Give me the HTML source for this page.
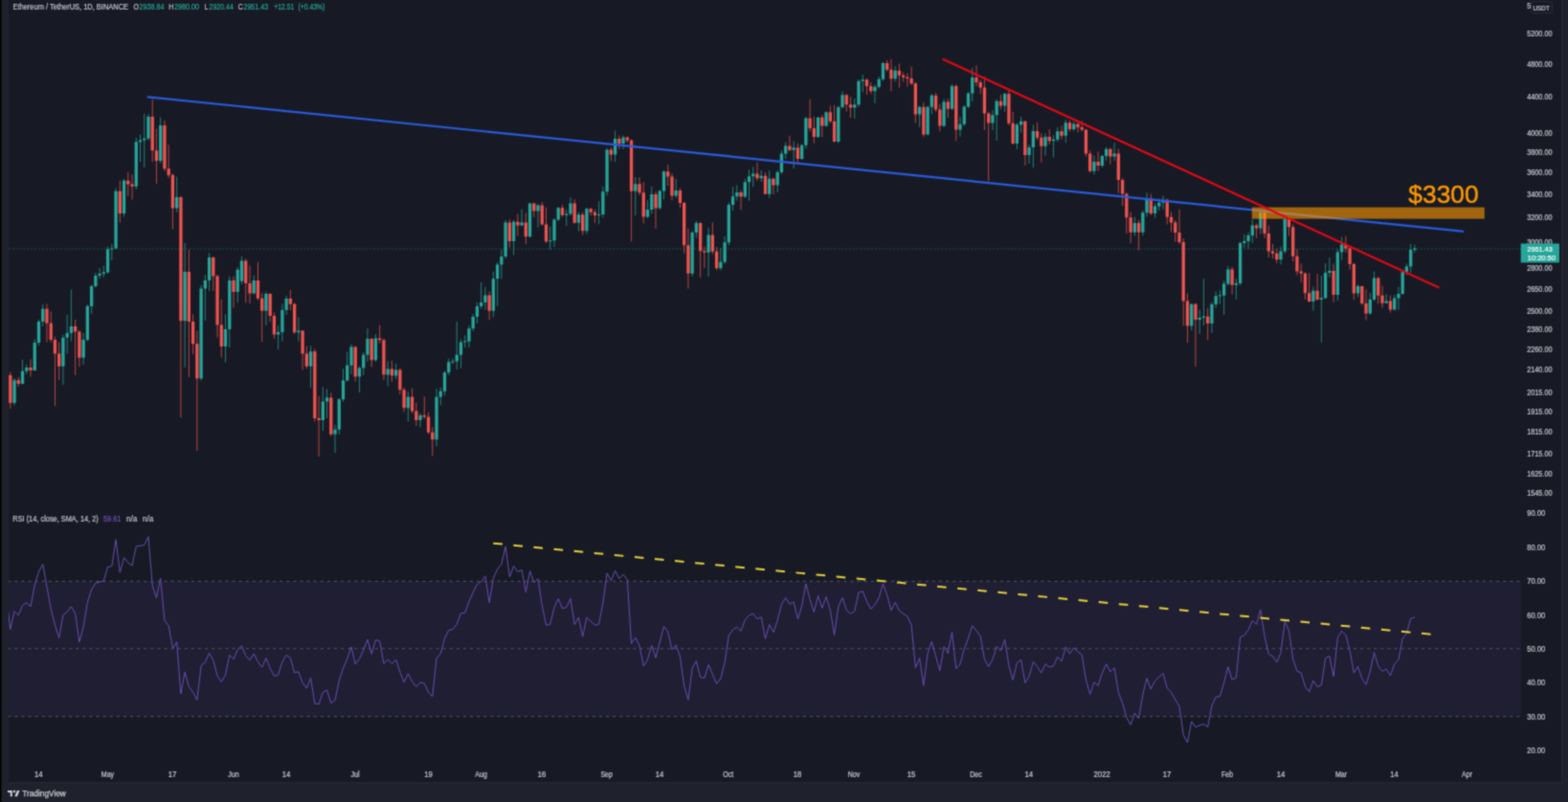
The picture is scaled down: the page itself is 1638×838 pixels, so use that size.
<!DOCTYPE html>
<html><head><meta charset="utf-8"><title>ETHUSDT</title>
<style>html,body{margin:0;padding:0;background:#171a24;}body{width:1638px;height:838px;overflow:hidden;}svg{display:block;}</style>
</head><body><svg xmlns="http://www.w3.org/2000/svg" width="1638" height="838" viewBox="0 0 1638 838"><defs><filter id="bl" x="0" y="0" width="1" height="1" color-interpolation-filters="sRGB"><feConvolveMatrix order="3" kernelMatrix="1 3 1 3 9 3 1 3 1" edgeMode="duplicate"/></filter></defs><g filter="url(#bl)"><rect x="0" y="0" width="1638" height="838" fill="#171a24"/><rect x="9" y="607.2" width="1580" height="141.6" fill="#1f1e33"/><line x1="9" y1="607.4" x2="1589" y2="607.4" stroke="#555864" stroke-width="1" stroke-dasharray="3 4.1" stroke-dashoffset="0.77"/><line x1="9" y1="677.7" x2="1589" y2="677.7" stroke="#555864" stroke-width="1" stroke-dasharray="3 4.1" stroke-dashoffset="0.77"/><line x1="9" y1="748.7" x2="1589" y2="748.7" stroke="#555864" stroke-width="1" stroke-dasharray="3 4.1" stroke-dashoffset="0.77"/><path d="M15.05 395.0V423.5M23.53 375.9V401.6M27.77 381.0V391.0M36.25 354.4V387.7M40.49 334.0V361.0M44.73 318.0V341.0M65.93 350.0V402.0M70.17 329.0V369.4M74.41 302.5V356.6M87.13 348.0V381.0M91.37 318.0V356.6M95.61 297.5V328.0M99.85 285.0V300.5M104.09 280.0V291.0M108.33 277.8V289.7M112.57 257.5V286.0M116.81 255.0V272.0M121.06 196.7V260.4M129.54 187.0V226.5M142.26 144.0V197.9M146.50 140.6V169.0M150.74 119.0V175.0M154.98 119.0V146.5M167.70 122.7V170.4M184.66 184.7V221.7M193.14 254.0V383.8M210.10 298.0V397.6M214.34 287.0V335.0M218.58 264.4V304.0M235.54 328.4V378.6M239.78 288.6V363.0M248.26 279.3V316.3M252.50 267.9V297.3M265.22 287.6V307.6M277.94 305.0V340.0M290.66 340.2V365.3M294.90 317.6V356.5M299.14 308.9V329.0M311.86 331.4V356.5M324.58 361.5V405.4M337.31 404.5V450.3M341.55 406.4V437.0M350.03 443.7V473.3M354.27 416.0V454.2M358.51 385.4V419.8M362.75 367.8V398.8M366.99 359.6V391.0M375.47 382.5V410.2M379.71 368.2V392.0M383.95 343.0V377.8M392.43 349.0V377.8M405.15 377.4V403.5M413.63 380.0V396.0M426.35 409.0V440.6M439.07 432.0V446.3M456.03 406.2V466.4M460.27 404.8V423.4M464.51 387.6V413.4M468.75 374.7V391.9M472.99 374.7V380.4M477.23 336.0V386.0M481.47 354.6V384.7M485.71 350.3V363.2M489.95 340.3V363.2M494.19 328.0V346.0M498.43 316.0V338.0M502.67 295.0V322.8M506.91 299.8V323.7M515.39 283.6V331.4M519.63 274.0V319.9M523.87 260.7V291.2M528.11 230.0V270.2M536.59 230.0V266.4M545.08 218.7V235.8M553.56 212.0V248.3M562.04 213.0V237.8M574.76 236.8V260.7M579.00 228.2V258.0M583.24 216.0V231.2M591.72 218.8V236.0M595.96 206.4V225.5M604.44 221.7V241.7M612.92 217.0V244.6M625.64 210.2V234.1M629.88 195.0V227.4M634.12 154.8V204.5M642.60 136.7V169.2M651.08 141.5V155.8M663.80 185.0V225.3M676.52 209.2V228.0M680.76 194.9V223.5M689.24 198.5V219.0M693.48 177.9V208.3M706.20 186.8V206.9M723.16 241.4V288.9M727.40 230.7V248.6M740.12 237.9V288.9M752.84 259.4V282.3M757.09 247.0V275.6M761.33 211.6V256.5M765.57 195.4V220.2M769.81 193.5V209.7M778.29 186.8V206.9M782.53 177.2V209.7M786.77 174.4V195.4M795.25 178.0V190.0M803.73 178.2V206.9M812.21 178.2V201.1M816.45 157.2V182.0M820.69 148.6V165.8M829.17 147.6V176.3M837.65 150.5V167.0M841.89 122.0V155.5M854.61 122.0V144.0M863.09 116.5V132.5M875.81 110.6V149.5M880.05 95.3V113.5M892.77 103.0V124.0M897.01 83.0V111.6M901.25 78.1V96.3M913.97 88.7V107.8M918.21 80.0V92.6M922.45 64.8V84.5M935.17 69.3V85.4M960.61 110.5V132.9M969.10 110.5V141.5M973.34 98.0V119.4M986.06 103.3V132.9M994.54 88.1V115.0M1003.02 121.8V142.7M1007.26 110.0V131.8M1011.50 96.0V113.0M1015.74 70.9V105.9M1036.94 115.1V136.0M1041.18 103.8V146.9M1049.66 96.8V116.8M1062.38 128.5V156.0M1066.62 121.8V138.5M1075.10 151.0V171.1M1079.34 130.2V175.3M1092.06 139.4V162.6M1100.54 141.2V164.4M1104.78 133.1V148.3M1113.26 125.0V149.2M1121.74 127.0V137.0M1142.94 162.6V182.3M1151.42 161.8V175.2M1155.66 153.7V168.0M1164.14 149.2V168.0M1185.35 226.4V246.4M1193.83 220.0V246.4M1198.07 201.3V226.4M1206.55 212.6V227.6M1210.79 207.6V220.0M1215.03 204.6V218.8M1244.71 317.3V345.4M1253.19 323.7V349.0M1257.43 291.3V340.0M1265.91 315.6V348.0M1270.15 304.5V321.7M1274.39 303.4V317.6M1278.63 293.3V328.8M1282.87 278.0V298.4M1291.35 291.3V312.6M1295.59 252.7V298.4M1299.83 245.0V258.8M1304.07 243.0V259.8M1308.31 229.4V253.8M1316.79 220.3V244.6M1337.99 257.6V276.4M1342.23 227.2V264.7M1371.91 299.6V324.7M1380.39 288.0V357.8M1384.63 275.1V312.7M1388.87 269.2V289.8M1397.36 260.3V314.0M1401.60 247.7V271.9M1418.56 297.0V310.4M1431.28 305.9V328.9M1435.52 283.7V314.5M1448.24 307.4V317.4M1456.72 308.0V324.6M1460.96 299.9V323.8M1465.20 283.0V308.0M1469.44 275.6V287.3M1473.68 255.0V285.0M1477.92 255.8V263.8" stroke="#26a69a" stroke-width="1" stroke-opacity="0.75" fill="none"/><path d="M13.40 397.3h3.3V421.0h-3.3zM21.88 387.7h3.3V400.9h-3.3zM26.12 384.0h3.3V387.7h-3.3zM34.60 358.0h3.3V387.0h-3.3zM38.84 335.9h3.3V358.0h-3.3zM43.08 322.7h3.3V335.9h-3.3zM64.28 352.8h3.3V382.7h-3.3zM68.52 348.0h3.3V352.8h-3.3zM72.76 341.0h3.3V348.0h-3.3zM85.48 354.9h3.3V373.7h-3.3zM89.72 319.9h3.3V354.9h-3.3zM93.96 299.1h3.3V319.9h-3.3zM98.20 287.9h3.3V299.1h-3.3zM102.44 286.0h3.3V287.9h-3.3zM106.68 284.4h3.3V286.0h-3.3zM110.92 260.4h3.3V284.4h-3.3zM115.16 259.4h3.3V260.4h-3.3zM119.41 199.8h3.3V259.4h-3.3zM127.89 188.8h3.3V222.9h-3.3zM140.61 148.3h3.3V194.7h-3.3zM144.85 146.5h3.3V148.3h-3.3zM149.09 144.7h3.3V146.5h-3.3zM153.33 122.0h3.3V144.7h-3.3zM166.05 131.0h3.3V168.0h-3.3zM183.01 205.9h3.3V217.4h-3.3zM191.49 284.1h3.3V335.3h-3.3zM208.45 301.4h3.3V395.4h-3.3zM212.69 293.0h3.3V301.4h-3.3zM216.93 268.9h3.3V293.0h-3.3zM233.89 344.0h3.3V362.0h-3.3zM238.13 293.0h3.3V344.0h-3.3zM246.61 281.7h3.3V304.9h-3.3zM250.85 272.4h3.3V293.8h-3.3zM263.57 293.0h3.3V306.4h-3.3zM276.29 307.0h3.3V324.7h-3.3zM289.01 346.9h3.3V349.4h-3.3zM293.25 324.0h3.3V346.9h-3.3zM297.49 312.0h3.3V324.0h-3.3zM310.21 345.4h3.3V347.2h-3.3zM322.93 367.3h3.3V382.8h-3.3zM335.66 419.6h3.3V439.1h-3.3zM339.90 415.6h3.3V419.6h-3.3zM348.38 448.8h3.3V453.8h-3.3zM352.62 417.2h3.3V448.8h-3.3zM356.86 397.4h3.3V417.2h-3.3zM361.10 381.8h3.3V397.4h-3.3zM365.34 362.5h3.3V381.8h-3.3zM373.82 384.4h3.3V393.4h-3.3zM378.06 370.8h3.3V384.4h-3.3zM382.30 353.9h3.3V370.8h-3.3zM390.78 353.6h3.3V376.2h-3.3zM403.50 385.4h3.3V391.5h-3.3zM411.98 386.6h3.3V392.4h-3.3zM424.70 414.8h3.3V426.2h-3.3zM437.42 434.0h3.3V439.1h-3.3zM454.38 414.8h3.3V459.2h-3.3zM458.62 408.8h3.3V414.8h-3.3zM462.86 389.3h3.3V408.8h-3.3zM467.10 378.2h3.3V389.3h-3.3zM471.34 377.4h3.3V378.4h-3.3zM475.58 370.8h3.3V377.5h-3.3zM479.82 357.4h3.3V370.8h-3.3zM484.06 356.6h3.3V357.6h-3.3zM488.30 343.2h3.3V356.8h-3.3zM492.54 330.9h3.3V343.2h-3.3zM496.78 319.9h3.3V330.9h-3.3zM501.02 316.0h3.3V319.9h-3.3zM505.26 308.4h3.3V316.0h-3.3zM513.74 291.2h3.3V324.7h-3.3zM517.98 276.6h3.3V291.2h-3.3zM522.22 267.9h3.3V276.6h-3.3zM526.46 232.4h3.3V267.9h-3.3zM534.94 231.7h3.3V252.0h-3.3zM543.43 232.4h3.3V235.5h-3.3zM551.91 212.5h3.3V247.3h-3.3zM560.39 214.5h3.3V220.6h-3.3zM573.11 251.3h3.3V252.3h-3.3zM577.35 229.5h3.3V251.3h-3.3zM581.59 217.2h3.3V229.5h-3.3zM590.07 223.4h3.3V224.8h-3.3zM594.31 212.5h3.3V223.4h-3.3zM602.79 224.2h3.3V232.7h-3.3zM611.27 218.3h3.3V241.2h-3.3zM623.99 223.9h3.3V224.9h-3.3zM628.23 200.2h3.3V223.9h-3.3zM632.47 156.4h3.3V200.2h-3.3zM640.95 144.9h3.3V161.5h-3.3zM649.43 143.6h3.3V150.0h-3.3zM662.15 192.2h3.3V199.7h-3.3zM674.87 219.0h3.3V226.6h-3.3zM679.11 203.0h3.3V219.0h-3.3zM687.59 199.4h3.3V217.6h-3.3zM691.83 179.3h3.3V199.4h-3.3zM704.55 199.0h3.3V204.4h-3.3zM721.51 242.9h3.3V285.8h-3.3zM725.75 233.0h3.3V242.9h-3.3zM738.47 245.6h3.3V263.8h-3.3zM751.19 273.7h3.3V280.3h-3.3zM755.44 253.2h3.3V273.7h-3.3zM759.68 214.0h3.3V253.2h-3.3zM763.92 205.2h3.3V214.0h-3.3zM768.16 201.1h3.3V205.2h-3.3zM776.64 190.3h3.3V205.6h-3.3zM780.88 184.2h3.3V190.3h-3.3zM785.12 181.6h3.3V184.2h-3.3zM793.60 183.8h3.3V186.2h-3.3zM802.08 186.8h3.3V202.7h-3.3zM810.56 180.1h3.3V193.5h-3.3zM814.80 160.6h3.3V180.1h-3.3zM819.04 152.4h3.3V160.6h-3.3zM827.52 154.2h3.3V156.8h-3.3zM836.00 151.8h3.3V166.0h-3.3zM840.24 123.4h3.3V151.8h-3.3zM852.96 122.7h3.3V143.1h-3.3zM861.44 117.3h3.3V131.6h-3.3zM874.16 112.0h3.3V147.9h-3.3zM878.40 99.2h3.3V112.0h-3.3zM891.12 109.3h3.3V112.5h-3.3zM895.36 84.8h3.3V109.3h-3.3zM899.60 83.3h3.3V84.8h-3.3zM912.32 90.7h3.3V95.3h-3.3zM916.56 82.8h3.3V90.7h-3.3zM920.80 66.1h3.3V82.8h-3.3zM933.52 73.8h3.3V82.2h-3.3zM958.96 111.7h3.3V119.4h-3.3zM967.45 111.7h3.3V140.6h-3.3zM971.69 99.7h3.3V111.7h-3.3zM984.41 106.5h3.3V131.6h-3.3zM992.89 89.9h3.3V113.7h-3.3zM1001.37 129.8h3.3V135.5h-3.3zM1005.61 111.4h3.3V129.8h-3.3zM1009.85 97.6h3.3V111.4h-3.3zM1014.09 80.9h3.3V97.6h-3.3zM1035.29 120.3h3.3V128.5h-3.3zM1039.53 105.8h3.3V120.3h-3.3zM1048.01 98.1h3.3V110.5h-3.3zM1060.73 130.3h3.3V150.1h-3.3zM1064.97 126.8h3.3V130.3h-3.3zM1073.45 153.9h3.3V161.9h-3.3zM1077.69 137.0h3.3V153.9h-3.3zM1090.41 143.0h3.3V152.8h-3.3zM1098.89 145.8h3.3V147.2h-3.3zM1103.13 137.2h3.3V145.8h-3.3zM1111.61 128.3h3.3V141.8h-3.3zM1120.09 129.5h3.3V134.9h-3.3zM1141.29 168.9h3.3V178.8h-3.3zM1149.77 163.1h3.3V173.0h-3.3zM1154.01 155.8h3.3V163.1h-3.3zM1162.49 160.5h3.3V163.5h-3.3zM1183.70 233.0h3.3V242.7h-3.3zM1192.18 222.3h3.3V242.7h-3.3zM1196.42 207.6h3.3V222.3h-3.3zM1204.90 215.4h3.3V223.0h-3.3zM1209.14 211.7h3.3V215.4h-3.3zM1213.38 208.8h3.3V211.7h-3.3zM1243.06 317.8h3.3V340.4h-3.3zM1251.54 332.1h3.3V333.9h-3.3zM1255.78 330.8h3.3V332.1h-3.3zM1264.26 317.9h3.3V338.0h-3.3zM1268.50 309.3h3.3V317.9h-3.3zM1272.74 308.5h3.3V309.5h-3.3zM1276.98 296.4h3.3V308.8h-3.3zM1281.22 281.5h3.3V296.4h-3.3zM1289.70 296.0h3.3V297.8h-3.3zM1293.94 254.1h3.3V296.0h-3.3zM1298.18 252.0h3.3V254.1h-3.3zM1302.42 245.9h3.3V252.0h-3.3zM1306.66 235.5h3.3V245.9h-3.3zM1315.14 222.3h3.3V238.5h-3.3zM1336.34 262.5h3.3V271.2h-3.3zM1340.58 229.0h3.3V262.5h-3.3zM1370.26 303.8h3.3V314.9h-3.3zM1378.74 311.3h3.3V313.0h-3.3zM1382.98 285.1h3.3V311.3h-3.3zM1387.22 283.0h3.3V285.1h-3.3zM1395.71 263.6h3.3V308.0h-3.3zM1399.95 255.4h3.3V263.6h-3.3zM1416.91 299.1h3.3V306.6h-3.3zM1429.63 313.1h3.3V327.4h-3.3zM1433.87 290.5h3.3V313.1h-3.3zM1446.59 314.4h3.3V316.7h-3.3zM1455.07 311.4h3.3V323.4h-3.3zM1459.31 307.0h3.3V311.4h-3.3zM1463.55 284.2h3.3V307.0h-3.3zM1467.79 278.5h3.3V284.2h-3.3zM1472.03 261.1h3.3V278.5h-3.3zM1476.27 259.6h3.3V261.1h-3.3z" fill="#26a69a"/><path d="M10.81 388.8V427.0M19.29 394.0V404.0M32.01 375.5V393.5M48.97 317.5V357.6M53.21 325.5V357.6M57.45 351.8V424.2M61.69 357.6V397.3M78.65 334.0V392.0M82.89 344.8V383.4M125.30 188.8V232.5M133.78 180.0V205.0M138.02 182.3V208.6M159.22 103.6V169.2M163.46 134.6V191.9M171.94 126.0V178.8M176.18 151.3V186.0M180.42 181.0V239.6M188.90 205.0V436.4M197.38 261.0V394.0M201.62 328.4V370.0M205.86 345.7V471.0M222.82 268.0V304.0M227.06 287.0V352.6M231.30 312.8V373.4M244.02 288.6V321.5M256.74 270.3V316.4M260.98 277.5V317.0M269.46 273.8V313.9M273.70 306.4V357.2M282.18 306.4V336.4M286.42 326.4V354.0M303.38 303.0V324.0M307.62 316.4V349.0M316.10 345.2V386.6M320.34 361.5V385.3M328.82 364.4V440.8M333.07 414.0V477.0M345.79 410.2V456.0M371.23 361.5V398.8M388.19 353.0V383.5M396.67 339.6V358.7M400.91 353.9V396.9M409.39 376.8V398.8M417.87 384.7V412.0M422.11 404.8V430.5M430.59 405.6V432.0M434.83 420.5V444.9M443.31 414.2V437.7M447.55 430.5V453.5M451.79 446.3V476.4M511.15 304.6V334.2M532.35 229.2V258.8M540.83 223.4V246.4M549.32 222.5V255.0M557.80 212.0V227.2M566.28 211.0V235.8M570.52 216.7V254.0M587.48 214.0V226.5M600.20 208.3V234.1M608.68 221.7V245.6M617.16 217.0V225.5M621.40 218.8V233.2M638.36 153.9V168.2M646.84 141.5V155.8M655.32 142.5V149.0M659.56 145.3V252.3M668.04 185.0V203.8M672.28 190.4V233.4M685.00 200.3V238.8M697.72 172.2V194.0M701.96 181.1V209.2M710.44 196.7V217.3M714.68 211.0V264.7M718.92 238.8V301.4M731.64 232.5V289.8M735.88 257.5V280.0M744.36 232.5V265.6M748.60 258.0V282.0M774.05 199.2V219.3M791.01 169.6V188.7M799.49 180.0V203.0M807.97 185.5V203.0M824.93 141.9V158.1M833.41 149.8V169.8M846.13 103.6V137.4M850.37 122.0V149.8M858.85 120.2V143.1M867.33 110.6V128.8M871.57 109.7V148.8M884.29 98.2V116.4M888.53 101.0V123.0M905.49 82.0V99.2M909.73 85.8V98.2M926.69 63.0V74.7M930.93 61.8V95.3M939.41 66.6V91.7M943.65 75.6V85.4M947.89 76.5V90.8M952.13 69.7V89.0M956.37 85.8V128.4M964.85 106.9V143.0M977.58 97.0V116.8M981.82 108.7V137.3M990.30 103.3V123.0M998.78 88.1V147.5M1019.98 68.4V90.1M1024.22 83.4V98.4M1028.46 80.0V136.0M1032.70 116.8V189.5M1045.42 98.8V114.3M1053.90 93.4V131.0M1058.14 116.8V151.0M1070.86 126.0V172.8M1083.58 127.7V146.5M1087.82 139.4V169.8M1096.30 134.9V151.0M1109.02 131.3V145.6M1117.50 126.0V137.6M1125.98 128.6V138.5M1130.22 126.5V137.6M1134.46 134.9V163.5M1138.70 157.3V180.5M1147.18 158.2V178.8M1159.90 154.6V171.6M1168.38 155.5V202.0M1172.62 186.3V215.0M1176.86 201.3V244.0M1181.11 221.4V254.0M1189.59 230.0V261.5M1202.31 202.6V225.0M1219.27 207.6V234.6M1223.51 221.4V242.2M1227.75 230.0V252.7M1231.99 218.8V255.2M1236.23 249.0V340.4M1240.47 306.6V358.0M1248.95 316.6V383.0M1261.67 321.7V355.2M1287.11 279.0V307.5M1312.55 233.5V248.7M1321.03 219.3V248.7M1325.27 235.5V269.0M1329.51 254.8V270.0M1333.75 259.8V275.0M1346.47 227.2V246.8M1350.71 234.3V273.3M1354.95 260.3V287.7M1359.19 275.5V295.2M1363.43 284.4V313.0M1367.67 285.3V315.8M1376.15 286.2V314.0M1393.12 275.5V315.8M1405.84 246.8V263.9M1410.08 258.5V281.7M1414.32 274.6V313.0M1422.80 298.8V318.8M1427.04 302.3V334.6M1439.76 289.5V317.4M1444.00 298.5V321.7M1452.48 308.8V326.7" stroke="#ef5350" stroke-width="1" stroke-opacity="0.75" fill="none"/><path d="M9.16 392.0h3.3V421.0h-3.3zM17.64 397.3h3.3V400.9h-3.3zM30.36 384.0h3.3V387.0h-3.3zM47.32 322.7h3.3V337.7h-3.3zM51.56 337.7h3.3V354.9h-3.3zM55.80 354.9h3.3V369.6h-3.3zM60.04 369.6h3.3V382.7h-3.3zM77.00 341.0h3.3V346.6h-3.3zM81.24 346.6h3.3V373.7h-3.3zM123.65 199.8h3.3V222.9h-3.3zM132.13 188.8h3.3V192.4h-3.3zM136.37 192.4h3.3V194.7h-3.3zM157.57 122.0h3.3V157.3h-3.3zM161.81 157.3h3.3V168.0h-3.3zM170.29 131.0h3.3V176.2h-3.3zM174.53 176.2h3.3V182.9h-3.3zM178.77 182.9h3.3V217.4h-3.3zM187.25 205.9h3.3V335.3h-3.3zM195.73 284.1h3.3V336.0h-3.3zM199.97 336.0h3.3V359.2h-3.3zM204.21 359.2h3.3V395.4h-3.3zM221.17 268.9h3.3V288.6h-3.3zM225.41 288.6h3.3V339.5h-3.3zM229.65 339.5h3.3V362.0h-3.3zM242.37 293.0h3.3V304.9h-3.3zM255.09 272.4h3.3V296.1h-3.3zM259.33 296.1h3.3V306.4h-3.3zM267.81 293.0h3.3V311.7h-3.3zM272.05 311.7h3.3V324.7h-3.3zM280.53 307.0h3.3V329.9h-3.3zM284.77 329.9h3.3V349.4h-3.3zM301.73 312.0h3.3V317.8h-3.3zM305.97 317.8h3.3V347.2h-3.3zM314.45 345.4h3.3V369.6h-3.3zM318.69 369.6h3.3V382.8h-3.3zM327.18 367.3h3.3V437.1h-3.3zM331.42 437.1h3.3V439.1h-3.3zM344.14 415.6h3.3V453.8h-3.3zM369.58 362.5h3.3V393.4h-3.3zM386.54 353.9h3.3V376.2h-3.3zM395.02 353.6h3.3V355.3h-3.3zM399.26 355.3h3.3V391.5h-3.3zM407.74 385.4h3.3V392.4h-3.3zM416.22 386.6h3.3V407.2h-3.3zM420.46 407.2h3.3V426.2h-3.3zM428.94 414.8h3.3V429.4h-3.3zM433.18 429.4h3.3V439.1h-3.3zM441.66 434.0h3.3V435.4h-3.3zM445.90 435.4h3.3V451.8h-3.3zM450.14 451.8h3.3V459.2h-3.3zM509.50 308.4h3.3V324.7h-3.3zM530.70 232.4h3.3V252.0h-3.3zM539.18 231.7h3.3V235.5h-3.3zM547.67 232.4h3.3V247.3h-3.3zM556.15 212.5h3.3V220.6h-3.3zM564.63 214.5h3.3V234.4h-3.3zM568.87 234.4h3.3V252.3h-3.3zM585.83 217.2h3.3V224.8h-3.3zM598.55 212.5h3.3V232.7h-3.3zM607.03 224.2h3.3V241.2h-3.3zM615.51 218.3h3.3V221.8h-3.3zM619.75 221.8h3.3V224.9h-3.3zM636.71 156.4h3.3V161.5h-3.3zM645.19 144.9h3.3V150.0h-3.3zM653.67 143.6h3.3V146.7h-3.3zM657.91 146.7h3.3V199.7h-3.3zM666.39 192.2h3.3V201.2h-3.3zM670.63 201.2h3.3V226.6h-3.3zM683.35 203.0h3.3V217.6h-3.3zM696.07 179.3h3.3V184.6h-3.3zM700.31 184.6h3.3V204.4h-3.3zM708.79 199.0h3.3V212.1h-3.3zM713.03 212.1h3.3V256.2h-3.3zM717.27 256.2h3.3V285.8h-3.3zM729.99 233.0h3.3V262.2h-3.3zM734.23 262.2h3.3V263.8h-3.3zM742.71 245.6h3.3V262.7h-3.3zM746.95 262.7h3.3V280.3h-3.3zM772.40 201.1h3.3V205.6h-3.3zM789.36 181.6h3.3V186.2h-3.3zM797.84 183.8h3.3V202.7h-3.3zM806.32 186.8h3.3V193.5h-3.3zM823.28 152.4h3.3V156.8h-3.3zM831.76 154.2h3.3V166.0h-3.3zM844.48 123.4h3.3V134.0h-3.3zM848.72 134.0h3.3V143.1h-3.3zM857.20 122.7h3.3V131.6h-3.3zM865.68 117.3h3.3V126.8h-3.3zM869.92 126.8h3.3V147.9h-3.3zM882.64 99.2h3.3V109.2h-3.3zM886.88 109.2h3.3V112.5h-3.3zM903.84 83.3h3.3V90.1h-3.3zM908.08 90.1h3.3V95.3h-3.3zM925.04 66.1h3.3V72.7h-3.3zM929.28 72.7h3.3V82.2h-3.3zM937.76 73.8h3.3V78.8h-3.3zM942.00 78.8h3.3V80.7h-3.3zM946.24 80.7h3.3V82.1h-3.3zM950.48 82.1h3.3V87.2h-3.3zM954.72 87.2h3.3V119.4h-3.3zM963.20 111.7h3.3V140.6h-3.3zM975.93 99.7h3.3V114.5h-3.3zM980.17 114.5h3.3V131.6h-3.3zM988.65 106.5h3.3V113.7h-3.3zM997.13 89.9h3.3V135.5h-3.3zM1018.33 80.9h3.3V85.9h-3.3zM1022.57 85.9h3.3V91.6h-3.3zM1026.81 91.6h3.3V118.4h-3.3zM1031.05 118.4h3.3V128.5h-3.3zM1043.77 105.8h3.3V110.5h-3.3zM1052.25 98.1h3.3V128.7h-3.3zM1056.49 128.7h3.3V150.1h-3.3zM1069.21 126.8h3.3V161.9h-3.3zM1081.93 137.0h3.3V143.7h-3.3zM1086.17 143.7h3.3V152.8h-3.3zM1094.65 143.0h3.3V147.2h-3.3zM1107.37 137.2h3.3V141.8h-3.3zM1115.85 128.3h3.3V134.9h-3.3zM1124.33 129.5h3.3V133.1h-3.3zM1128.57 133.1h3.3V135.6h-3.3zM1132.81 135.6h3.3V160.4h-3.3zM1137.05 160.4h3.3V178.8h-3.3zM1145.53 168.9h3.3V173.0h-3.3zM1158.25 155.8h3.3V163.5h-3.3zM1166.73 160.5h3.3V188.1h-3.3zM1170.97 188.1h3.3V202.5h-3.3zM1175.21 202.5h3.3V227.3h-3.3zM1179.46 227.3h3.3V242.7h-3.3zM1187.94 233.0h3.3V242.7h-3.3zM1200.66 207.6h3.3V223.0h-3.3zM1217.62 208.8h3.3V226.7h-3.3zM1221.86 226.7h3.3V232.5h-3.3zM1226.10 232.5h3.3V242.9h-3.3zM1230.34 242.9h3.3V252.9h-3.3zM1234.58 252.9h3.3V314.6h-3.3zM1238.82 314.6h3.3V340.4h-3.3zM1247.30 317.8h3.3V333.9h-3.3zM1260.02 330.8h3.3V338.0h-3.3zM1285.46 281.5h3.3V297.8h-3.3zM1310.90 235.5h3.3V238.5h-3.3zM1319.38 222.3h3.3V243.9h-3.3zM1323.62 243.9h3.3V262.4h-3.3zM1327.86 262.4h3.3V264.7h-3.3zM1332.10 264.7h3.3V271.2h-3.3zM1344.82 229.0h3.3V237.2h-3.3zM1349.06 237.2h3.3V267.7h-3.3zM1353.30 267.7h3.3V283.5h-3.3zM1357.54 283.5h3.3V285.8h-3.3zM1361.78 285.8h3.3V306.2h-3.3zM1366.02 306.2h3.3V314.9h-3.3zM1374.50 303.8h3.3V313.0h-3.3zM1391.47 283.0h3.3V308.0h-3.3zM1404.19 255.4h3.3V259.4h-3.3zM1408.43 259.4h3.3V275.9h-3.3zM1412.67 275.9h3.3V306.6h-3.3zM1421.15 299.1h3.3V317.1h-3.3zM1425.39 317.1h3.3V327.4h-3.3zM1438.11 290.5h3.3V308.8h-3.3zM1442.35 308.8h3.3V316.7h-3.3zM1450.83 314.4h3.3V323.4h-3.3z" fill="#ef5350"/><line x1="9" y1="260.1" x2="1589" y2="260.1" stroke="#26a69a" stroke-width="1" stroke-dasharray="2 1.85" opacity="0.4"/><line x1="154.7" y1="101.3" x2="1528.2" y2="241.8" stroke="#2a5bdf" stroke-width="2.2" stroke-linecap="round"/><rect x="1307.8" y="216.6" width="243" height="12" fill="#ff9800" fill-opacity="0.6"/><line x1="985.4" y1="62.1" x2="1502.6" y2="300.3" stroke="#e00816" stroke-width="2.2" stroke-linecap="round"/><text x="1471.2" y="212.3" font-family="'Liberation Sans', Arial, sans-serif" font-size="26.3" letter-spacing="0.1" fill="#ff9800" stroke="#ff9800" stroke-width="0.45">$3300</text><path d="M6.57 620.93 L10.81 657.47 L15.05 638.69 L19.29 642.96 L23.53 632.58 L27.77 629.67 L32.01 633.94 L36.25 611.43 L40.49 597.19 L44.73 589.55 L48.97 613.12 L53.21 636.22 L57.45 653.20 L61.69 666.70 L65.93 642.80 L70.17 639.20 L74.41 633.82 L78.65 641.07 L82.89 670.92 L87.13 655.05 L91.37 629.21 L95.61 616.06 L99.85 609.32 L104.09 608.12 L108.33 607.08 L112.57 592.29 L116.81 591.68 L121.06 563.79 L125.30 598.30 L129.54 582.70 L133.78 587.83 L138.02 591.04 L142.26 570.92 L146.50 570.22 L150.74 569.47 L154.98 560.69 L159.22 612.15 L163.46 624.56 L167.70 604.25 L171.94 648.44 L176.18 653.78 L180.42 677.76 L184.66 670.71 L188.90 725.08 L193.14 702.23 L197.38 717.53 L201.62 723.30 L205.86 731.37 L210.10 695.43 L214.34 692.17 L218.58 682.38 L222.82 689.87 L227.06 706.30 L231.30 712.45 L235.54 705.22 L239.78 684.33 L244.02 688.81 L248.26 678.86 L252.50 674.72 L256.74 685.39 L260.98 689.74 L265.22 683.13 L269.46 691.68 L273.70 697.31 L277.94 687.81 L282.18 698.33 L286.42 706.41 L290.66 704.98 L294.90 691.52 L299.14 684.38 L303.38 687.67 L307.62 703.00 L311.86 701.87 L316.10 713.43 L320.34 719.15 L324.58 708.48 L328.82 735.10 L333.07 735.71 L337.31 723.56 L341.55 720.97 L345.79 734.77 L350.03 731.56 L354.27 711.06 L358.51 698.33 L362.75 688.35 L366.99 675.99 L371.23 694.05 L375.47 688.32 L379.71 679.34 L383.95 668.30 L388.19 683.35 L392.43 668.60 L396.67 669.85 L400.91 693.46 L405.15 689.27 L409.39 693.58 L413.63 689.22 L417.87 702.30 L422.11 712.90 L426.35 703.89 L430.59 712.20 L434.83 717.52 L439.07 713.08 L443.31 713.93 L447.55 723.63 L451.79 727.79 L456.03 687.95 L460.27 682.95 L464.51 667.08 L468.75 658.35 L472.99 657.74 L477.23 652.05 L481.47 640.86 L485.71 640.27 L489.95 628.77 L494.19 618.94 L498.43 610.58 L502.67 607.64 L506.91 601.87 L511.15 629.71 L515.39 604.07 L519.63 594.76 L523.87 589.45 L528.11 571.12 L532.35 602.86 L536.59 591.56 L540.83 597.44 L545.08 595.59 L549.32 618.75 L553.56 596.71 L557.80 608.66 L562.04 604.78 L566.28 632.51 L570.52 653.22 L574.76 652.35 L579.00 634.78 L583.24 625.61 L587.48 635.74 L591.72 634.55 L595.96 625.48 L600.20 652.61 L604.44 645.01 L608.68 665.28 L612.92 644.97 L617.16 649.32 L621.40 653.16 L625.64 652.17 L629.88 630.01 L634.12 598.89 L638.36 606.77 L642.60 596.34 L646.84 604.63 L651.08 600.32 L655.32 605.75 L659.56 672.54 L663.80 666.18 L668.04 674.76 L672.28 695.95 L676.52 689.00 L680.76 674.56 L685.00 687.25 L689.24 671.12 L693.48 654.52 L697.72 660.02 L701.96 678.88 L706.20 674.06 L710.44 685.93 L714.68 716.61 L718.92 731.32 L723.16 698.04 L727.40 690.71 L731.64 707.64 L735.88 708.49 L740.12 694.44 L744.36 704.76 L748.60 714.35 L752.84 709.06 L757.09 692.62 L761.33 664.02 L765.57 657.97 L769.81 655.10 L774.05 659.37 L778.29 647.74 L782.53 643.09 L786.77 641.09 L791.01 646.78 L795.25 644.64 L799.49 667.49 L803.73 652.63 L807.97 660.60 L812.21 648.03 L816.45 631.26 L820.69 624.65 L824.93 631.25 L829.17 628.97 L833.41 646.85 L837.65 633.25 L841.89 610.00 L846.13 626.49 L850.37 639.56 L854.61 622.54 L858.85 635.40 L863.09 623.59 L867.33 637.43 L871.57 663.58 L875.81 633.76 L880.05 624.47 L884.29 637.29 L888.53 641.44 L892.77 638.74 L897.01 619.07 L901.25 617.89 L905.49 628.48 L909.73 636.40 L913.97 632.04 L918.21 624.52 L922.45 609.97 L926.69 621.85 L930.93 637.84 L935.17 629.46 L939.41 637.93 L943.65 641.31 L947.89 643.83 L952.13 653.13 L956.37 697.97 L960.61 687.56 L964.85 716.30 L969.10 682.73 L973.34 670.37 L977.58 685.73 L981.82 700.95 L986.06 675.79 L990.30 682.64 L994.54 660.47 L998.78 698.78 L1003.02 693.92 L1007.26 678.31 L1011.50 667.01 L1015.74 653.82 L1019.98 658.92 L1024.22 664.71 L1028.46 688.87 L1032.70 696.59 L1036.94 688.94 L1041.18 675.51 L1045.42 679.96 L1049.66 668.19 L1053.90 695.43 L1058.14 710.33 L1062.38 692.63 L1066.62 689.45 L1070.86 713.52 L1075.10 706.44 L1079.34 691.54 L1083.58 696.51 L1087.82 703.14 L1092.06 693.79 L1096.30 697.14 L1100.54 695.73 L1104.78 686.44 L1109.02 690.97 L1113.26 675.94 L1117.50 683.17 L1121.74 676.93 L1125.98 681.21 L1130.22 684.26 L1134.46 710.49 L1138.70 725.48 L1142.94 712.86 L1147.18 716.36 L1151.42 703.24 L1155.66 693.82 L1159.90 701.97 L1164.14 697.82 L1168.38 723.82 L1172.62 734.50 L1176.86 749.59 L1181.11 757.37 L1185.35 745.24 L1189.59 750.57 L1193.83 725.58 L1198.07 708.72 L1202.31 720.14 L1206.55 711.55 L1210.79 707.11 L1215.03 703.62 L1219.27 718.90 L1223.51 723.39 L1227.75 731.17 L1231.99 738.11 L1236.23 767.80 L1240.47 775.89 L1244.71 753.84 L1248.95 759.77 L1253.19 758.00 L1257.43 756.58 L1261.67 759.59 L1265.91 737.55 L1270.15 728.22 L1274.39 727.60 L1278.63 713.32 L1282.87 696.85 L1287.11 710.12 L1291.35 708.09 L1295.59 665.75 L1299.83 663.85 L1304.07 658.13 L1308.31 648.42 L1312.55 652.35 L1316.79 637.05 L1321.03 664.52 L1325.27 683.48 L1329.51 685.68 L1333.75 691.96 L1337.99 682.24 L1342.23 649.22 L1346.47 659.00 L1350.71 688.89 L1354.95 701.25 L1359.19 702.94 L1363.43 717.38 L1367.67 722.89 L1371.91 711.28 L1376.15 717.74 L1380.39 715.84 L1384.63 687.63 L1388.87 685.51 L1393.12 706.91 L1397.36 666.07 L1401.60 659.40 L1405.84 663.44 L1410.08 679.44 L1414.32 703.16 L1418.56 696.44 L1422.80 708.91 L1427.04 715.44 L1431.28 701.95 L1435.52 681.68 L1439.76 695.74 L1444.00 701.39 L1448.24 699.17 L1452.48 705.97 L1456.72 693.86 L1460.96 689.44 L1465.20 667.20 L1469.44 661.95 L1473.68 646.18 L1477.92 644.89" stroke="#6a4db0" stroke-width="1" fill="none" stroke-linejoin="round"/><line x1="514.7" y1="567.6" x2="1494.7" y2="662.8" stroke="#e8d33a" stroke-width="2" stroke-dasharray="9.6 11.58" stroke-dashoffset="-0.6"/><text x="1595.20" y="8.58" font-family="'Liberation Sans', Arial, sans-serif" font-size="8.8" fill="#c5c8d0" stroke="#c5c8d0" stroke-width="0.22" textLength="26.40" lengthAdjust="spacingAndGlyphs">5600.00</text><text x="1595.20" y="37.90" font-family="'Liberation Sans', Arial, sans-serif" font-size="8.8" fill="#c5c8d0" stroke="#c5c8d0" stroke-width="0.22" textLength="26.40" lengthAdjust="spacingAndGlyphs">5200.00</text><text x="1595.20" y="69.57" font-family="'Liberation Sans', Arial, sans-serif" font-size="8.8" fill="#c5c8d0" stroke="#c5c8d0" stroke-width="0.22" textLength="26.40" lengthAdjust="spacingAndGlyphs">4800.00</text><text x="1595.20" y="104.00" font-family="'Liberation Sans', Arial, sans-serif" font-size="8.8" fill="#c5c8d0" stroke="#c5c8d0" stroke-width="0.22" textLength="26.40" lengthAdjust="spacingAndGlyphs">4400.00</text><text x="1595.20" y="141.72" font-family="'Liberation Sans', Arial, sans-serif" font-size="8.8" fill="#c5c8d0" stroke="#c5c8d0" stroke-width="0.22" textLength="26.40" lengthAdjust="spacingAndGlyphs">4000.00</text><text x="1595.20" y="162.01" font-family="'Liberation Sans', Arial, sans-serif" font-size="8.8" fill="#c5c8d0" stroke="#c5c8d0" stroke-width="0.22" textLength="26.40" lengthAdjust="spacingAndGlyphs">3800.00</text><text x="1595.20" y="183.41" font-family="'Liberation Sans', Arial, sans-serif" font-size="8.8" fill="#c5c8d0" stroke="#c5c8d0" stroke-width="0.22" textLength="26.40" lengthAdjust="spacingAndGlyphs">3600.00</text><text x="1595.20" y="206.03" font-family="'Liberation Sans', Arial, sans-serif" font-size="8.8" fill="#c5c8d0" stroke="#c5c8d0" stroke-width="0.22" textLength="26.40" lengthAdjust="spacingAndGlyphs">3400.00</text><text x="1595.20" y="230.02" font-family="'Liberation Sans', Arial, sans-serif" font-size="8.8" fill="#c5c8d0" stroke="#c5c8d0" stroke-width="0.22" textLength="26.40" lengthAdjust="spacingAndGlyphs">3200.00</text><text x="1595.20" y="255.55" font-family="'Liberation Sans', Arial, sans-serif" font-size="8.8" fill="#c5c8d0" stroke="#c5c8d0" stroke-width="0.22" textLength="26.40" lengthAdjust="spacingAndGlyphs">3000.00</text><text x="1595.20" y="282.85" font-family="'Liberation Sans', Arial, sans-serif" font-size="8.8" fill="#c5c8d0" stroke="#c5c8d0" stroke-width="0.22" textLength="26.40" lengthAdjust="spacingAndGlyphs">2800.00</text><text x="1595.20" y="304.64" font-family="'Liberation Sans', Arial, sans-serif" font-size="8.8" fill="#c5c8d0" stroke="#c5c8d0" stroke-width="0.22" textLength="26.40" lengthAdjust="spacingAndGlyphs">2650.00</text><text x="1595.20" y="327.70" font-family="'Liberation Sans', Arial, sans-serif" font-size="8.8" fill="#c5c8d0" stroke="#c5c8d0" stroke-width="0.22" textLength="26.40" lengthAdjust="spacingAndGlyphs">2500.00</text><text x="1595.20" y="347.16" font-family="'Liberation Sans', Arial, sans-serif" font-size="8.8" fill="#c5c8d0" stroke="#c5c8d0" stroke-width="0.22" textLength="26.40" lengthAdjust="spacingAndGlyphs">2380.00</text><text x="1595.20" y="367.63" font-family="'Liberation Sans', Arial, sans-serif" font-size="8.8" fill="#c5c8d0" stroke="#c5c8d0" stroke-width="0.22" textLength="26.40" lengthAdjust="spacingAndGlyphs">2260.00</text><text x="1595.20" y="389.22" font-family="'Liberation Sans', Arial, sans-serif" font-size="8.8" fill="#c5c8d0" stroke="#c5c8d0" stroke-width="0.22" textLength="26.40" lengthAdjust="spacingAndGlyphs">2140.00</text><text x="1595.20" y="413.04" font-family="'Liberation Sans', Arial, sans-serif" font-size="8.8" fill="#c5c8d0" stroke="#c5c8d0" stroke-width="0.22" textLength="26.40" lengthAdjust="spacingAndGlyphs">2015.00</text><text x="1595.20" y="433.18" font-family="'Liberation Sans', Arial, sans-serif" font-size="8.8" fill="#c5c8d0" stroke="#c5c8d0" stroke-width="0.22" textLength="26.40" lengthAdjust="spacingAndGlyphs">1915.00</text><text x="1595.20" y="454.40" font-family="'Liberation Sans', Arial, sans-serif" font-size="8.8" fill="#c5c8d0" stroke="#c5c8d0" stroke-width="0.22" textLength="26.40" lengthAdjust="spacingAndGlyphs">1815.00</text><text x="1595.20" y="476.83" font-family="'Liberation Sans', Arial, sans-serif" font-size="8.8" fill="#c5c8d0" stroke="#c5c8d0" stroke-width="0.22" textLength="26.40" lengthAdjust="spacingAndGlyphs">1715.00</text><text x="1595.20" y="498.16" font-family="'Liberation Sans', Arial, sans-serif" font-size="8.8" fill="#c5c8d0" stroke="#c5c8d0" stroke-width="0.22" textLength="26.40" lengthAdjust="spacingAndGlyphs">1625.00</text><text x="1595.20" y="518.14" font-family="'Liberation Sans', Arial, sans-serif" font-size="8.8" fill="#c5c8d0" stroke="#c5c8d0" stroke-width="0.22" textLength="26.40" lengthAdjust="spacingAndGlyphs">1545.00</text><text x="1595.20" y="539.40" font-family="'Liberation Sans', Arial, sans-serif" font-size="8.8" fill="#c5c8d0" stroke="#c5c8d0" stroke-width="0.22" textLength="18.90" lengthAdjust="spacingAndGlyphs">90.00</text><text x="1595.20" y="574.81" font-family="'Liberation Sans', Arial, sans-serif" font-size="8.8" fill="#c5c8d0" stroke="#c5c8d0" stroke-width="0.22" textLength="18.90" lengthAdjust="spacingAndGlyphs">80.00</text><text x="1595.20" y="610.22" font-family="'Liberation Sans', Arial, sans-serif" font-size="8.8" fill="#c5c8d0" stroke="#c5c8d0" stroke-width="0.22" textLength="18.90" lengthAdjust="spacingAndGlyphs">70.00</text><text x="1595.20" y="645.63" font-family="'Liberation Sans', Arial, sans-serif" font-size="8.8" fill="#c5c8d0" stroke="#c5c8d0" stroke-width="0.22" textLength="18.90" lengthAdjust="spacingAndGlyphs">60.00</text><text x="1595.20" y="681.04" font-family="'Liberation Sans', Arial, sans-serif" font-size="8.8" fill="#c5c8d0" stroke="#c5c8d0" stroke-width="0.22" textLength="18.90" lengthAdjust="spacingAndGlyphs">50.00</text><text x="1595.20" y="716.45" font-family="'Liberation Sans', Arial, sans-serif" font-size="8.8" fill="#c5c8d0" stroke="#c5c8d0" stroke-width="0.22" textLength="18.90" lengthAdjust="spacingAndGlyphs">40.00</text><text x="1595.20" y="751.86" font-family="'Liberation Sans', Arial, sans-serif" font-size="8.8" fill="#c5c8d0" stroke="#c5c8d0" stroke-width="0.22" textLength="18.90" lengthAdjust="spacingAndGlyphs">30.00</text><text x="1595.20" y="787.27" font-family="'Liberation Sans', Arial, sans-serif" font-size="8.8" fill="#c5c8d0" stroke="#c5c8d0" stroke-width="0.22" textLength="18.90" lengthAdjust="spacingAndGlyphs">20.00</text><rect x="1599.8" y="1.6" width="21.6" height="12.2" rx="2.5" fill="#171a24" stroke="#2a2e39" stroke-width="1"/><text x="1601.40" y="11.30" font-family="'Liberation Sans', Arial, sans-serif" font-size="7.6" fill="#c5c8d0" stroke="#c5c8d0" stroke-width="0.22" textLength="17.40" lengthAdjust="spacingAndGlyphs">USDT</text><rect x="1588.7" y="254.5" width="40.2" height="19.9" fill="#26a69a"/><text x="1595.40" y="262.80" font-family="'Liberation Sans', Arial, sans-serif" font-size="8.1" fill="#ffffff" stroke="#ffffff" stroke-width="0.22" textLength="26.30" lengthAdjust="spacingAndGlyphs">2951.43</text><text x="1595.80" y="271.60" font-family="'Liberation Sans', Arial, sans-serif" font-size="8.1" fill="#ffffff" stroke="#ffffff" stroke-width="0.22" textLength="29.00" lengthAdjust="spacingAndGlyphs">10:20:50</text><text x="35.98" y="811.70" font-family="'Liberation Sans', Arial, sans-serif" font-size="8.8" fill="#c5c8d0" stroke="#c5c8d0" stroke-width="0.22" textLength="8.65" lengthAdjust="spacingAndGlyphs">14</text><text x="105.84" y="811.70" font-family="'Liberation Sans', Arial, sans-serif" font-size="8.8" fill="#c5c8d0" stroke="#c5c8d0" stroke-width="0.22" textLength="13.31" lengthAdjust="spacingAndGlyphs">May</text><text x="175.68" y="811.70" font-family="'Liberation Sans', Arial, sans-serif" font-size="8.8" fill="#c5c8d0" stroke="#c5c8d0" stroke-width="0.22" textLength="8.65" lengthAdjust="spacingAndGlyphs">17</text><text x="238.32" y="811.70" font-family="'Liberation Sans', Arial, sans-serif" font-size="8.8" fill="#c5c8d0" stroke="#c5c8d0" stroke-width="0.22" textLength="11.36" lengthAdjust="spacingAndGlyphs">Jun</text><text x="294.68" y="811.70" font-family="'Liberation Sans', Arial, sans-serif" font-size="8.8" fill="#c5c8d0" stroke="#c5c8d0" stroke-width="0.22" textLength="8.65" lengthAdjust="spacingAndGlyphs">14</text><text x="366.50" y="811.70" font-family="'Liberation Sans', Arial, sans-serif" font-size="8.8" fill="#c5c8d0" stroke="#c5c8d0" stroke-width="0.22" textLength="9.01" lengthAdjust="spacingAndGlyphs">Jul</text><text x="443.28" y="811.70" font-family="'Liberation Sans', Arial, sans-serif" font-size="8.8" fill="#c5c8d0" stroke="#c5c8d0" stroke-width="0.22" textLength="8.65" lengthAdjust="spacingAndGlyphs">19</text><text x="496.33" y="811.70" font-family="'Liberation Sans', Arial, sans-serif" font-size="8.8" fill="#c5c8d0" stroke="#c5c8d0" stroke-width="0.22" textLength="12.54" lengthAdjust="spacingAndGlyphs">Aug</text><text x="561.68" y="811.70" font-family="'Liberation Sans', Arial, sans-serif" font-size="8.8" fill="#c5c8d0" stroke="#c5c8d0" stroke-width="0.22" textLength="8.65" lengthAdjust="spacingAndGlyphs">16</text><text x="627.43" y="811.70" font-family="'Liberation Sans', Arial, sans-serif" font-size="8.8" fill="#c5c8d0" stroke="#c5c8d0" stroke-width="0.22" textLength="12.54" lengthAdjust="spacingAndGlyphs">Sep</text><text x="684.68" y="811.70" font-family="'Liberation Sans', Arial, sans-serif" font-size="8.8" fill="#c5c8d0" stroke="#c5c8d0" stroke-width="0.22" textLength="8.65" lengthAdjust="spacingAndGlyphs">14</text><text x="755.32" y="811.70" font-family="'Liberation Sans', Arial, sans-serif" font-size="8.8" fill="#c5c8d0" stroke="#c5c8d0" stroke-width="0.22" textLength="10.96" lengthAdjust="spacingAndGlyphs">Oct</text><text x="828.68" y="811.70" font-family="'Liberation Sans', Arial, sans-serif" font-size="8.8" fill="#c5c8d0" stroke="#c5c8d0" stroke-width="0.22" textLength="8.65" lengthAdjust="spacingAndGlyphs">18</text><text x="885.73" y="811.70" font-family="'Liberation Sans', Arial, sans-serif" font-size="8.8" fill="#c5c8d0" stroke="#c5c8d0" stroke-width="0.22" textLength="12.53" lengthAdjust="spacingAndGlyphs">Nov</text><text x="947.68" y="811.70" font-family="'Liberation Sans', Arial, sans-serif" font-size="8.8" fill="#c5c8d0" stroke="#c5c8d0" stroke-width="0.22" textLength="8.65" lengthAdjust="spacingAndGlyphs">15</text><text x="1013.23" y="811.70" font-family="'Liberation Sans', Arial, sans-serif" font-size="8.8" fill="#c5c8d0" stroke="#c5c8d0" stroke-width="0.22" textLength="12.53" lengthAdjust="spacingAndGlyphs">Dec</text><text x="1070.48" y="811.70" font-family="'Liberation Sans', Arial, sans-serif" font-size="8.8" fill="#c5c8d0" stroke="#c5c8d0" stroke-width="0.22" textLength="8.65" lengthAdjust="spacingAndGlyphs">14</text><text x="1142.55" y="811.70" font-family="'Liberation Sans', Arial, sans-serif" font-size="8.8" fill="#c5c8d0" stroke="#c5c8d0" stroke-width="0.22" textLength="17.30" lengthAdjust="spacingAndGlyphs">2022</text><text x="1214.68" y="811.70" font-family="'Liberation Sans', Arial, sans-serif" font-size="8.8" fill="#c5c8d0" stroke="#c5c8d0" stroke-width="0.22" textLength="8.65" lengthAdjust="spacingAndGlyphs">17</text><text x="1275.93" y="811.70" font-family="'Liberation Sans', Arial, sans-serif" font-size="8.8" fill="#c5c8d0" stroke="#c5c8d0" stroke-width="0.22" textLength="12.14" lengthAdjust="spacingAndGlyphs">Feb</text><text x="1333.68" y="811.70" font-family="'Liberation Sans', Arial, sans-serif" font-size="8.8" fill="#c5c8d0" stroke="#c5c8d0" stroke-width="0.22" textLength="8.65" lengthAdjust="spacingAndGlyphs">14</text><text x="1394.93" y="811.70" font-family="'Liberation Sans', Arial, sans-serif" font-size="8.8" fill="#c5c8d0" stroke="#c5c8d0" stroke-width="0.22" textLength="12.14" lengthAdjust="spacingAndGlyphs">Mar</text><text x="1452.28" y="811.70" font-family="'Liberation Sans', Arial, sans-serif" font-size="8.8" fill="#c5c8d0" stroke="#c5c8d0" stroke-width="0.22" textLength="8.65" lengthAdjust="spacingAndGlyphs">14</text><text x="1527.02" y="811.70" font-family="'Liberation Sans', Arial, sans-serif" font-size="8.8" fill="#c5c8d0" stroke="#c5c8d0" stroke-width="0.22" textLength="10.97" lengthAdjust="spacingAndGlyphs">Apr</text><text x="13.50" y="10.2" font-family="'Liberation Sans', Arial, sans-serif" font-size="8.2" fill="#c5c8d0" stroke="#c5c8d0" stroke-width="0.18" textLength="120.50" lengthAdjust="spacingAndGlyphs">Ethereum / TetherUS, 1D, BINANCE</text><text x="139.40" y="10.2" font-family="'Liberation Sans', Arial, sans-serif" font-size="8.2" fill="#c5c8d0" stroke="#c5c8d0" stroke-width="0.18" textLength="5.42" lengthAdjust="spacingAndGlyphs">O</text><text x="145.50" y="10.2" font-family="'Liberation Sans', Arial, sans-serif" font-size="8.2" fill="#26a69a" stroke="#26a69a" stroke-width="0.18" textLength="25.90" lengthAdjust="spacingAndGlyphs">2938.84</text><text x="176.30" y="10.2" font-family="'Liberation Sans', Arial, sans-serif" font-size="8.2" fill="#c5c8d0" stroke="#c5c8d0" stroke-width="0.18" textLength="5.03" lengthAdjust="spacingAndGlyphs">H</text><text x="182.10" y="10.2" font-family="'Liberation Sans', Arial, sans-serif" font-size="8.2" fill="#26a69a" stroke="#26a69a" stroke-width="0.18" textLength="25.90" lengthAdjust="spacingAndGlyphs">2980.00</text><text x="213.40" y="10.2" font-family="'Liberation Sans', Arial, sans-serif" font-size="8.2" fill="#c5c8d0" stroke="#c5c8d0" stroke-width="0.18" textLength="3.88" lengthAdjust="spacingAndGlyphs">L</text><text x="218.60" y="10.2" font-family="'Liberation Sans', Arial, sans-serif" font-size="8.2" fill="#26a69a" stroke="#26a69a" stroke-width="0.18" textLength="25.20" lengthAdjust="spacingAndGlyphs">2920.44</text><text x="248.80" y="10.2" font-family="'Liberation Sans', Arial, sans-serif" font-size="8.2" fill="#c5c8d0" stroke="#c5c8d0" stroke-width="0.18" textLength="5.03" lengthAdjust="spacingAndGlyphs">C</text><text x="254.50" y="10.2" font-family="'Liberation Sans', Arial, sans-serif" font-size="8.2" fill="#26a69a" stroke="#26a69a" stroke-width="0.18" textLength="25.60" lengthAdjust="spacingAndGlyphs">2951.43</text><text x="286.20" y="10.2" font-family="'Liberation Sans', Arial, sans-serif" font-size="8.2" fill="#26a69a" stroke="#26a69a" stroke-width="0.18" textLength="21.10" lengthAdjust="spacingAndGlyphs">+12.51</text><text x="311.40" y="10.2" font-family="'Liberation Sans', Arial, sans-serif" font-size="8.2" fill="#26a69a" stroke="#26a69a" stroke-width="0.18" textLength="28.00" lengthAdjust="spacingAndGlyphs">(+0.43%)</text><text x="13.30" y="544.7" font-family="'Liberation Sans', Arial, sans-serif" font-size="8.2" fill="#c5c8d0" stroke="#c5c8d0" stroke-width="0.18" textLength="89.50" lengthAdjust="spacingAndGlyphs">RSI (14, close, SMA, 14, 2)</text><text x="108.00" y="544.7" font-family="'Liberation Sans', Arial, sans-serif" font-size="8.2" fill="#7352b8" stroke="#7352b8" stroke-width="0.18" textLength="18.30" lengthAdjust="spacingAndGlyphs">59.61</text><text x="131.90" y="544.7" font-family="'Liberation Sans', Arial, sans-serif" font-size="8.2" fill="#c5c8d0" stroke="#c5c8d0" stroke-width="0.18" textLength="11.40" lengthAdjust="spacingAndGlyphs">n/a</text><text x="149.00" y="544.7" font-family="'Liberation Sans', Arial, sans-serif" font-size="8.2" fill="#c5c8d0" stroke="#c5c8d0" stroke-width="0.18" textLength="11.40" lengthAdjust="spacingAndGlyphs">n/a</text><rect x="0" y="818" width="1638" height="20" fill="#1f222c"/><rect x="1631" y="0" width="7" height="838" fill="#1f222c"/><rect x="1631.2" y="0" width="1.2" height="818.6" fill="#262934"/><rect x="9" y="817.2" width="1623.4" height="1.2" fill="#262934"/><rect x="0" y="0" width="1.7" height="838" fill="#000000"/><rect x="1.7" y="0" width="7.3" height="838" fill="#1f222c"/><rect x="2.3" y="0" width="0.9" height="838" fill="#23262f"/><g fill="#d1d4dc"><path d="M7.95 826H12.76V832.2H10.75V827.9H7.95Z"/><circle cx="14.9" cy="827" r="1.2"/><path d="M17.9 826H20.5L17.9 832.2H15.3Z"/></g><text x="23.2" y="832" font-family="'Liberation Sans', Arial, sans-serif" font-size="8.3" fill="#c8cad2" stroke="#c8cad2" stroke-width="0.25">TradingView</text></g></svg></body></html>
